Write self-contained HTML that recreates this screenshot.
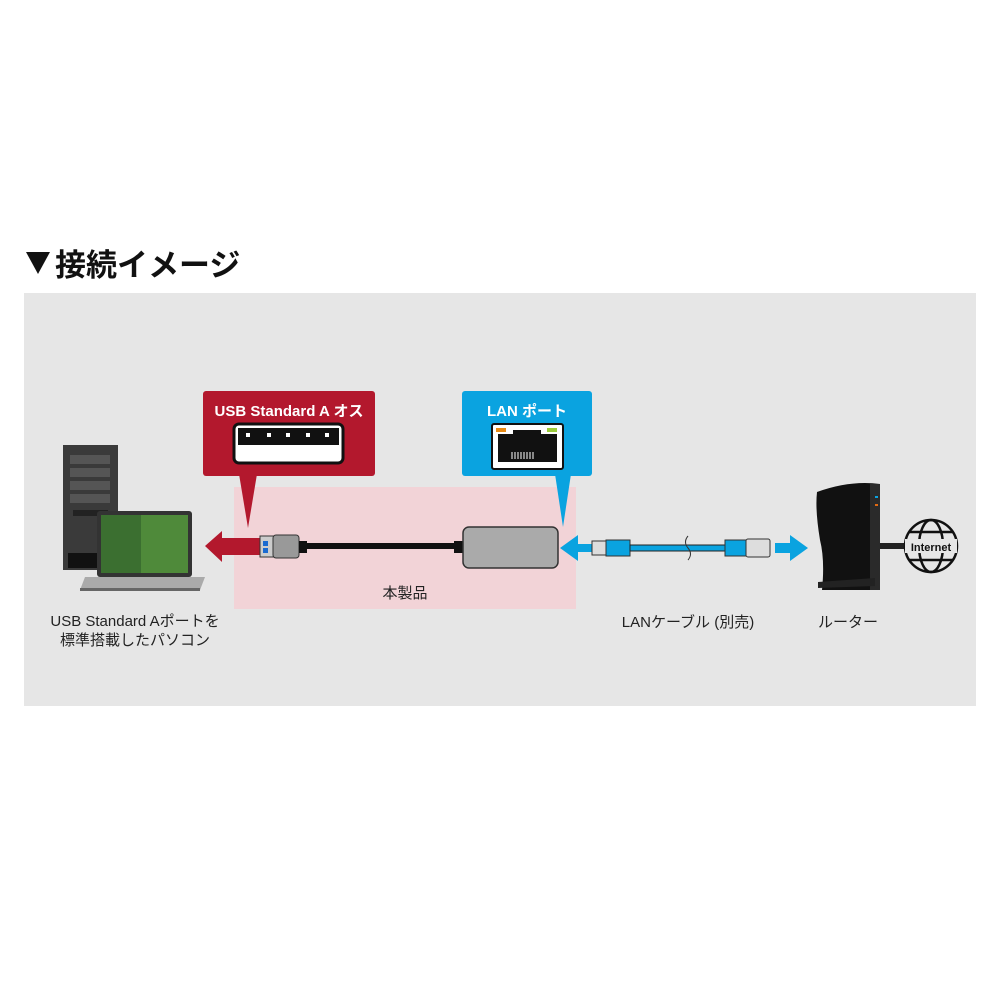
<!DOCTYPE html>
<html><head><meta charset="utf-8"><style>
body{margin:0;width:1000px;height:1000px;background:#fff;position:relative;overflow:hidden;font-family:"Liberation Sans","Noto Sans CJK JP",sans-serif}
.a{position:absolute}
.t{font-size:15px;color:#222;white-space:nowrap}
</style></head><body>
<svg class="a" style="left:26px;top:252px" width="24" height="22"><polygon points="0,0 24,0 12,22" fill="#111"/></svg>
<div class="a" style="left:55px;top:240px;font-size:31px;font-weight:bold;color:#111;white-space:nowrap">接続イメージ</div>
<div class="a" style="left:24px;top:293px;width:952px;height:413px;background:#e6e6e6"></div>
<div class="a" style="left:234px;top:487px;width:342px;height:122px;background:#f2d3d7"></div>
<svg class="a" style="left:0;top:0" width="1000" height="1000">
<rect x="203" y="391" width="172" height="85" rx="3" fill="#b3182d"/>
<polygon points="239,474 257,474 248,528" fill="#b3182d"/>
<rect x="234" y="424" width="109" height="39" rx="5" fill="#fff" stroke="#111" stroke-width="3"/>
<rect x="238" y="428" width="101" height="17" fill="#111"/>
<g fill="#fff"><rect x="246" y="433" width="4" height="4"/><rect x="267" y="433" width="4" height="4"/><rect x="286" y="433" width="4" height="4"/><rect x="306" y="433" width="4" height="4"/><rect x="325" y="433" width="4" height="4"/></g>
<rect x="462" y="391" width="130" height="85" rx="3" fill="#0aa3e0"/>
<polygon points="555,474 571,474 563,527" fill="#0aa3e0"/>
<rect x="492" y="424" width="71" height="45" rx="2" fill="#fff" stroke="#111" stroke-width="2"/>
<path d="M498 434 H513 V430 H541 V434 H557 V462 H498 Z" fill="#111"/>
<rect x="496" y="428" width="10" height="4" fill="#e88a14"/><rect x="547" y="428" width="10" height="4" fill="#9ccc3a"/>
<g stroke="#fff" stroke-width="1"><path d="M512 452v7M515 452v7M518 452v7M521 452v7M524 452v7M527 452v7M530 452v7M533 452v7"/></g>
<rect x="63" y="445" width="55" height="125" fill="#3a3a3a"/>
<g fill="#555"><rect x="70" y="455" width="40" height="9"/><rect x="70" y="468" width="40" height="9"/><rect x="70" y="481" width="40" height="9"/><rect x="70" y="494" width="40" height="9"/></g>
<rect x="73" y="510" width="35" height="6" fill="#222"/>
<rect x="68" y="553" width="40" height="15" fill="#111"/>
<rect x="97" y="511" width="95" height="66" rx="3" fill="#333"/>
<rect x="101" y="515" width="87" height="58" fill="#4f8a3a"/>
<rect x="101" y="515" width="40" height="58" fill="#2f5e2a" opacity=".6"/>
<polygon points="80,590 85,577 205,577 200,590" fill="#aaa"/>
<rect x="80" y="588" width="120" height="3" fill="#666"/>
<polygon points="205,546 222,531 222,538 262,538 262,555 222,555 222,562" fill="#b3182d"/>
<rect x="260" y="536" width="14" height="21" fill="#ccc" stroke="#333"/>
<rect x="263" y="541" width="5" height="5" fill="#1a6ad0"/><rect x="263" y="548" width="5" height="5" fill="#1a6ad0"/>
<rect x="273" y="535" width="26" height="23" rx="3" fill="#999" stroke="#333"/>
<rect x="299" y="541" width="8" height="12" fill="#111"/>
<rect x="300" y="543" width="160" height="6" fill="#111"/>
<rect x="454" y="541" width="10" height="12" fill="#111"/>
<rect x="463" y="527" width="95" height="41" rx="6" fill="#aaa" stroke="#333" stroke-width="1.5"/>
<polygon points="560,548 578,535 578,544 600,544 600,552 578,552 578,561" fill="#0aa3e0"/>
<rect x="592" y="541" width="14" height="14" fill="#ddd" stroke="#333"/>
<rect x="606" y="540" width="24" height="16" fill="#0aa3e0" stroke="#333"/>
<rect x="630" y="545" width="140" height="6" fill="#0aa3e0" stroke="#222"/>
<path d="M688 536 q-5 6 0 12 q5 6 0 12" stroke="#333" fill="none"/>
<rect x="725" y="540" width="22" height="16" fill="#0aa3e0" stroke="#333"/>
<rect x="746" y="539" width="24" height="18" rx="2" fill="#ddd" stroke="#333"/>
<polygon points="775,543 790,543 790,535 808,548 790,561 790,553 775,553" fill="#0aa3e0"/>
<path d="M817 492 Q850 480 880 484 V590 H822 Q825 560 820 540 Q815 510 817 492Z" fill="#111"/>
<rect x="870" y="484" width="10" height="106" fill="#2a2a2a"/>
<rect x="875" y="496" width="3" height="2" fill="#0aa3e0"/><rect x="875" y="504" width="3" height="2" fill="#e06a14"/>
<polygon points="818,582 875,578 875,586 818,588" fill="#222"/>
<rect x="880" y="543" width="40" height="6" fill="#222"/>
<g fill="none" stroke="#111" stroke-width="2.5"><circle cx="931" cy="546" r="26"/><ellipse cx="931" cy="546" rx="12" ry="26"/><line x1="905" y1="546" x2="957" y2="546"/><path d="M909 532 H953 M909 560 H953"/></g>
<rect x="905" y="539" width="52" height="14" fill="#e6e6e6"/>
<text x="931" y="551" font-size="11" font-weight="bold" text-anchor="middle" font-family="Liberation Sans" fill="#111">Internet</text>
</svg>
<div class="a" style="left:203px;top:400px;width:172px;text-align:center;color:#fff;font-weight:bold;font-size:15px;white-space:nowrap">USB Standard A オス</div>
<div class="a" style="left:462px;top:400px;width:130px;text-align:center;color:#fff;font-weight:bold;font-size:15px">LAN ポート</div>
<div class="a t" style="left:355px;top:582px;width:100px;text-align:center">本製品</div>
<div class="a t" style="left:25px;top:612px;width:220px;text-align:center;line-height:19px">USB Standard Aポートを<br>標準搭載したパソコン</div>
<div class="a t" style="left:600px;top:611px;width:176px;text-align:center">LANケーブル (別売)</div>
<div class="a t" style="left:798px;top:611px;width:100px;text-align:center">ルーター</div>
</body></html>
